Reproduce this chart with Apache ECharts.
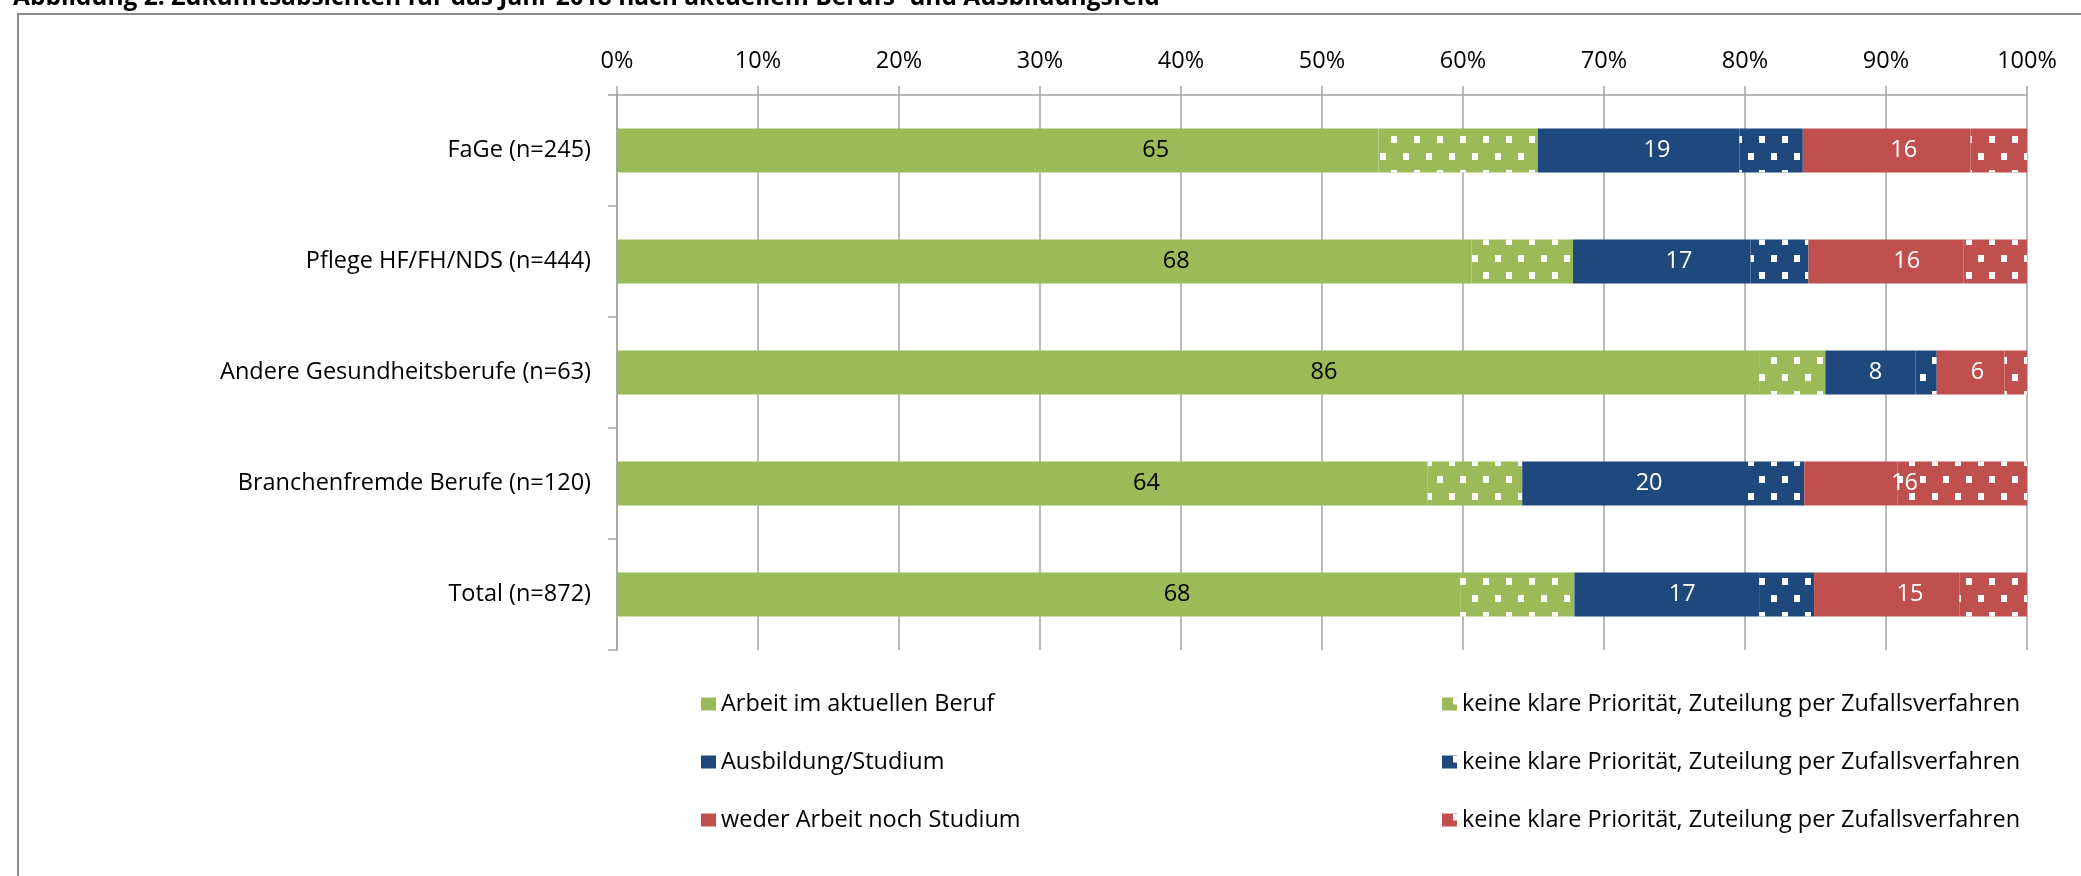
<!DOCTYPE html>
<html>
<head>
<meta charset="utf-8">
<script src="https://cdn.jsdelivr.net/npm/echarts@6/dist/echarts.min.js"></script>
<style>
  html, body { margin: 0; padding: 0; background: #fff; }
  #chart { width: 2081px; height: 876px; }
</style>
</head>
<body>
<div id="chart"></div>
<script>
// ---- data (percent of respondents) ----
const titleText = 'Abbildung 2: Zukunftsabsichten für das Jahr 2018 nach aktuellem Berufs- und Ausbildungsfeld';
const categories = ['FaGe (n=245)', 'Pflege HF/FH/NDS (n=444)', 'Andere Gesundheitsberufe (n=63)', 'Branchenfremde Berufe (n=120)', 'Total (n=872)'];
const arbeit = [54.0, 60.6, 81.0, 57.5, 59.8];
const arbeitZufall = [11.3, 7.2, 4.7, 6.7, 8.1];
const ausbildung = [14.3, 12.6, 6.4, 15.8, 13.1];
const ausbildungZufall = [4.5, 4.1, 1.5, 4.2, 3.9];
const weder = [11.9, 11.0, 4.8, 6.6, 10.3];
const wederZufall = [4.0, 4.5, 1.6, 9.2, 4.8];
const labelArbeit = [65, 68, 86, 64, 68];
const labelAusbildung = [19, 17, 8, 20, 17];
const labelWeder = [16, 16, 6, 16, 15];
const seriesNames = ['Arbeit im aktuellen Beruf', 'Ausbildung/Studium', 'weder Arbeit noch Studium'];
const zufallName = 'keine klare Priorität, Zuteilung per Zufallsverfahren';

// ---- styles ----
const FONT = '"Open Sans", "Noto Sans", sans-serif';
const FS = 23.5;
const GREEN = '#9BBB59', BLUE = '#1F497D', RED = '#C0504D';
const GRIDC = '#a3a3a3';
const dots = {
  symbol: 'rect', symbolSize: 1, symbolKeepAspect: false, color: '#ffffff',
  dashArrayX: [[6, 17], [0, 11, 6, 6]], dashArrayY: [7, 10], rotation: 0
};
const zName = k => zufallName + ' '.repeat(k);

const sum = (a, b) => a.map((v, i) => v + b[i]);
const arbeitTot = sum(arbeit, arbeitZufall);
const ausbTot = sum(ausbildung, ausbildungZufall);
const wederTot = sum(weder, wederZufall);

function segment(name, data, color, decal) {
  return {
    name, type: 'bar', stack: 'all', data, barWidth: 44,
    itemStyle: Object.assign({ color }, decal ? { decal: dots } : {}),
    emphasis: { disabled: true }, silent: true
  };
}
function labelSeries(data, labels, color, posX) {
  return {
    type: 'bar', stack: 'lbl', yAxisIndex: 1, data, barWidth: 44,
    itemStyle: { color: 'rgba(0,0,0,0)' }, silent: true, z: 5,
    label: {
      show: true, position: [posX, '50%'], align: 'center', verticalAlign: 'middle',
      color, fontFamily: FONT, fontSize: FS,
      formatter: p => String(labels[p.dataIndex])
    }
  };
}

const chart = echarts.init(document.getElementById('chart'));
chart.setOption({
  backgroundColor: '#fff',
  animation: false,
  graphic: [
    { type: 'rect', z: -10, shape: { x: 18, y: 14, width: 2200, height: 1000 },
      style: { fill: 'none', stroke: '#8c8c8c', lineWidth: 2 } },
    { type: 'text', x: 13, y: -2, z: 10,
      style: { text: titleText, font: 'bold 24.5px ' + FONT, fill: '#000', verticalAlign: 'middle' } }
  ],
  grid: { left: 617, right: 54, top: 95, bottom: 226 },
  xAxis: {
    type: 'value', position: 'top', min: 0, max: 100, interval: 10,
    axisLine: { show: true, lineStyle: { color: GRIDC, width: 1.5 } },
    axisTick: { show: true, length: 9, lineStyle: { color: GRIDC, width: 1.5 } },
    splitLine: { show: true, lineStyle: { color: GRIDC, width: 1.5 } },
    axisLabel: { formatter: '{value}%', color: '#000', fontFamily: FONT, fontSize: FS, margin: 22 }
  },
  yAxis: [
    {
      type: 'category', data: categories, inverse: true,
      axisLine: { show: true, lineStyle: { color: GRIDC, width: 1.5 } },
      axisTick: { show: true, length: 9, lineStyle: { color: GRIDC, width: 1.5 } },
      axisLabel: { color: '#000', fontFamily: FONT, fontSize: FS, margin: 26 }
    },
    { type: 'category', data: categories, inverse: true, show: false }
  ],
  legend: [
    {
      orient: 'vertical', left: 701, top: 692, padding: 0, itemWidth: 15, itemHeight: 13, itemGap: 34,
      icon: 'rect', selectedMode: false,
      textStyle: { color: '#000', fontFamily: FONT, fontSize: FS, lineHeight: 23 },
      data: seriesNames
    },
    {
      orient: 'vertical', left: 1442, top: 692, padding: 0, itemWidth: 15, itemHeight: 13, itemGap: 34,
      icon: 'rect', selectedMode: false,
      textStyle: { color: '#000', fontFamily: FONT, fontSize: FS, lineHeight: 23 },
      formatter: n => n.trim(),
      data: [zName(1), zName(2), zName(3)]
    }
  ],
  series: [
    segment(seriesNames[0], arbeit, GREEN, false),
    segment(zName(1), arbeitZufall, GREEN, true),
    segment(seriesNames[1], ausbildung, BLUE, false),
    segment(zName(2), ausbildungZufall, BLUE, true),
    segment(seriesNames[2], weder, RED, false),
    segment(zName(3), wederZufall, RED, true),
    labelSeries(arbeitTot, labelArbeit, '#000', '58.5%'),
    labelSeries(ausbTot, labelAusbildung, '#fff', '45%'),
    labelSeries(wederTot, labelWeder, '#fff', '45%')
  ]
});
</script>
</body>
</html>
